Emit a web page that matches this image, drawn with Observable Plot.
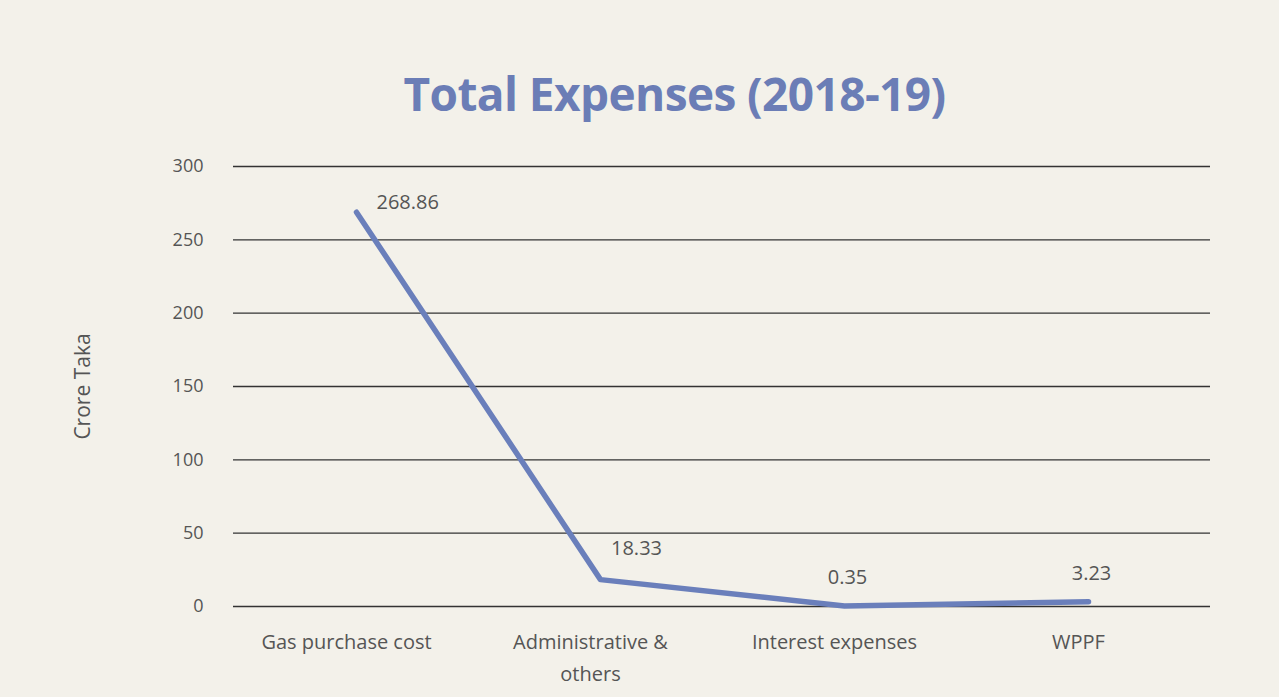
<!DOCTYPE html>
<html>
<head>
<meta charset="utf-8">
<script src="https://cdn.jsdelivr.net/npm/d3@7"></script>
<script src="https://cdn.jsdelivr.net/npm/@observablehq/plot@0.6"></script>
<style>
  html, body { margin: 0; padding: 0; background: #f3f1ea; }
  #wrap { position: relative; width: 1279px; height: 697px; overflow: hidden; background: #f3f1ea; }
  #title { position: absolute; left: 35px; width: 1279px; top: 70px; text-align: center;
           font-family: "Open Sans", sans-serif; font-weight: 700; font-size: 46px; color: #6b7db6;
           line-height: 1; letter-spacing: -0.6px; }
  #chart { position: absolute; left: 0; top: 130px; }
</style>
</head>
<body>
<div id="wrap">
  <div id="title">Total Expenses (2018-19)</div>
  <div id="chart"></div>
</div>
<script>
const categories = ["Gas purchase cost", "Administrative & others", "Interest expenses", "WPPF"];
const values = [268.86, 18.33, 0.35, 3.23];
const yTicks = [0, 50, 100, 150, 200, 250, 300];

const data = categories.map((c, i) => ({category: c, value: values[i]}));

const chart = Plot.plot({
  width: 1279,
  height: 567,
  marginTop: 36,
  marginBottom: 91,
  marginLeft: 233,
  marginRight: 69,
  style: {fontFamily: "'Open Sans', sans-serif", fontSize: "18px", color: "#555", background: "transparent"},
  x: {type: "point", domain: categories, padding: 0.5, label: null},
  y: {domain: [0, 300], ticks: yTicks, label: "Crore Taka"},
  marks: [
    Plot.ruleY(yTicks, {stroke: "#333", strokeWidth: 1.4}),
    Plot.axisY({ticks: yTicks, tickSize: 0, tickPadding: 30, fontSize: 18, fill: "#555", label: null}),
    Plot.axisY({ticks: [], tickSize: 0, fontSize: 21, fill: "#555",
      label: "Crore Taka", labelAnchor: "center", labelArrow: "none", labelOffset: 158}),
    Plot.axisX({tickSize: 0, tickPadding: 20, fontSize: 20, fill: "#555", lineHeight: 1.6, dx: -10,
      tickFormat: d => d.replace("& ", "&\n")}),
    Plot.line(data, {x: "category", y: "value", stroke: "#6a7fbb", strokeWidth: 5.5, strokeLinejoin: "round"}),
    Plot.text(data.filter((d, i) => i === 0), {x: "category", y: "value", text: d => d.value.toFixed(2),
      textAnchor: "start", dx: 20, dy: -10, fontSize: 20, fill: "#555"}),
    Plot.text(data.filter((d, i) => i === 1), {x: "category", y: "value", text: d => d.value.toFixed(2),
      dx: 36, dy: -31, fontSize: 20, fill: "#555"}),
    Plot.text(data.filter((d, i) => i > 1), {x: "category", y: "value", text: d => d.value.toFixed(2),
      dx: 3, dy: -28, fontSize: 20, fill: "#555"})
  ]
});
document.getElementById("chart").appendChild(chart);
</script>
</body>
</html>
